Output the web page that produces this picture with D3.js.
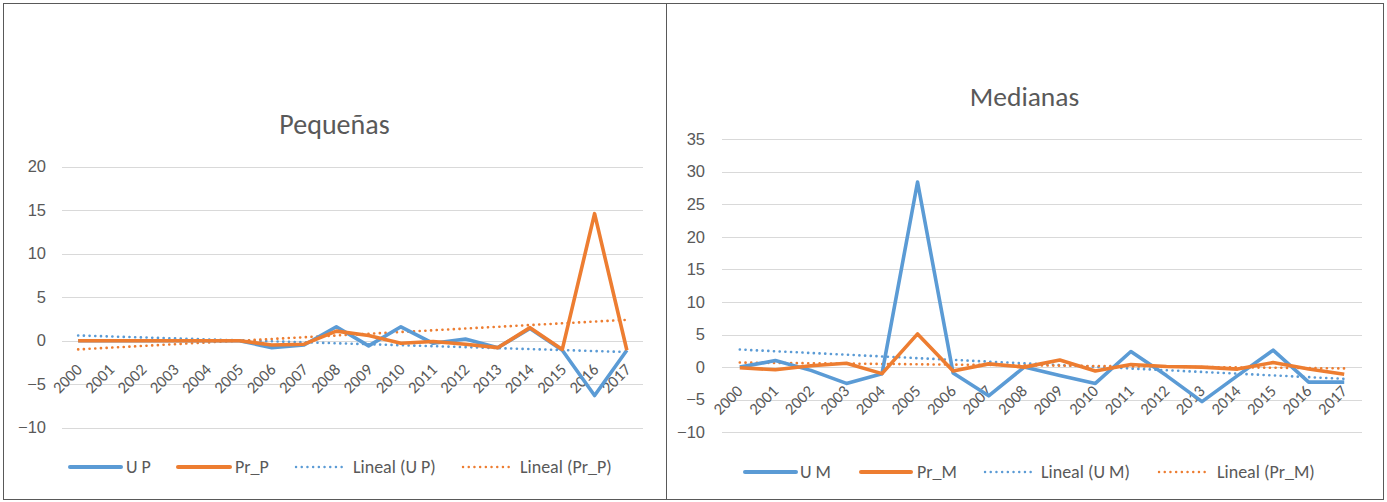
<!DOCTYPE html>
<html>
<head>
<meta charset="utf-8">
<script src="https://cdn.jsdelivr.net/npm/d3@7"></script>
<style>
  body { margin: 0; background: #fff; }
  svg { display: block; font-family: Carlito, Calibri, Lato, sans-serif; }
</style>
</head>
<body>
<svg id="chart" width="1387" height="502"></svg>
<script>
// ------------------
// Data
// ------------------
const years = ['2000', '2001', '2002', '2003', '2004', '2005', '2006', '2007', '2008',
  '2009', '2010', '2011', '2012', '2013', '2014', '2015', '2016', '2017']

const upValues = [0, 0, 0, 0, 0, 0, -0.8, -0.5, 1.6, -0.6, 1.6, -0.3, 0.2, -0.8, 1.4, -1.1, -6.3, -1.1]
const prPValues = [0, 0, 0, 0, 0, 0, -0.5, -0.4, 1.1, 0.6, -0.3, -0.1, -0.4, -0.8, 1.5, -1.0, 14.6, -1.1]
const umValues = [0, 1.0, -0.5, -2.5, -1.0, 28.4, -0.9, -4.4, 0, -1.3, -2.5, 2.4, -1.3, -5.3, -1.3, 2.6, -2.3, -2.3]
const prMValues = [-0.1, -0.4, 0.2, 0.6, -1.0, 5.1, -0.6, 0.5, 0, 1.1, -0.6, 0.4, 0.1, 0, -0.3, 0.7, -0.3, -1.1]

// linear trend lines: value at first and last year
const trendUP = [0.6, -1.3]
const trendPrP = [-1.0, 2.4]
const trendUM = [2.7, -1.8]
const trendPrM = [0.7, -0.2]

const ticksP = [-10, -5, 0, 5, 10, 15, 20]
const ticksM = [-10, -5, 0, 5, 10, 15, 20, 25, 30, 35]

const BLUE = '#5b9bd5'
const ORANGE = '#ed7d31'
const TEXT = '#595959'
const GRID = '#d9d9d9'

const svg = d3.select('#chart')

// ------------------
// One panel
// ------------------
function drawPanel(opt) {
  const g = svg.append('g')

  // frame
  g.append('rect')
    .attr('x', opt.frame[0] + 0.5)
    .attr('y', 3.5)
    .attr('width', opt.frame[1] - opt.frame[0])
    .attr('height', 496)
    .attr('fill', 'none')
    .attr('stroke', '#595959')
    .attr('stroke-width', 1)

  // title
  g.append('text')
    .attr('x', (opt.frame[0] + opt.frame[1]) / 2)
    .attr('y', opt.titleY)
    .attr('text-anchor', 'middle')
    .attr('fill', TEXT)
    .attr('font-size', opt.titleSize)
    .text(opt.title)

  const x = d3.scalePoint()
    .domain(years)
    .range(opt.xRange)
    .padding(0.5)

  const y = d3.scaleLinear()
    .domain(d3.extent(opt.ticks))
    .range(opt.yRange)

  // gridlines
  g.append('g')
    .selectAll('line')
    .data(opt.ticks)
    .join('line')
    .attr('x1', opt.xRange[0])
    .attr('x2', opt.xRange[1])
    .attr('y1', d => Math.round(y(d)) + 0.5)
    .attr('y2', d => Math.round(y(d)) + 0.5)
    .attr('stroke', GRID)
    .attr('stroke-width', 1)

  // y axis labels
  const yAxis = d3.axisLeft(y).tickValues(opt.ticks).tickSize(0).tickPadding(0)
  g.append('g')
    .attr('transform', `translate(${opt.yLabelX},0)`)
    .call(yAxis)
    .call(a => a.select('.domain').remove())
    .selectAll('text')
    .attr('fill', TEXT)
    .attr('font-size', opt.tickSize)
    .attr('font-family', null)

  // x labels, rotated, hanging under the zero line
  g.append('g')
    .selectAll('text')
    .data(years)
    .join('text')
    .attr('transform', d => `translate(${x(d) + opt.labelDx},${y(0) + opt.labelDy}) rotate(-45)`)
    .attr('text-anchor', 'end')
    .attr('fill', TEXT)
    .attr('font-size', opt.tickSize)
    .text(d => d)

  // trend lines
  const first = years[0]
  const last = years[years.length - 1]
  opt.trends.forEach(t => {
    g.append('line')
      .attr('x1', x(first))
      .attr('x2', x(last))
      .attr('y1', y(t.values[0]))
      .attr('y2', y(t.values[1]))
      .attr('stroke', t.color)
      .attr('stroke-width', 2.6)
      .attr('stroke-dasharray', '0.1 5.6')
      .attr('stroke-linecap', 'round')
  })

  // series
  const line = d3.line()
    .x((d, i) => x(years[i]))
    .y(d => y(d))

  opt.series.forEach(s => {
    g.append('path')
      .datum(s.values)
      .attr('d', line)
      .attr('fill', 'none')
      .attr('stroke', s.color)
      .attr('stroke-width', 3.6)
      .attr('stroke-linejoin', 'round')
  })

  // legend
  const lg = g.append('g')
  opt.legend.forEach(item => {
    const ly = opt.legendY
    lg.append('line')
      .attr('x1', item.x0)
      .attr('x2', item.x1)
      .attr('y1', ly)
      .attr('y2', ly)
      .attr('stroke', item.color)
      .attr('stroke-width', item.dotted ? 2.4 : 4)
      .attr('stroke-linecap', 'round')
      .attr('stroke-dasharray', item.dotted ? '0.1 5.6' : null)
    lg.append('text')
      .attr('x', item.tx)
      .attr('y', ly)
      .attr('dy', '0.35em')
      .attr('fill', TEXT)
      .attr('font-size', opt.legendSize)
      .text(item.label)
  })
}

drawPanel({
  frame: [3, 666],
  title: 'Pequeñas',
  titleY: 134,
  titleSize: 28,
  ticks: ticksP,
  xRange: [62, 643],
  yRange: [427.7, 166.7],
  yLabelX: 46,
  tickSize: 16.5,
  labelDx: 5,
  labelDy: 30,
  legendY: 467,
  legendSize: 18,
  series: [
    { values: upValues, color: BLUE },
    { values: prPValues, color: ORANGE }
  ],
  trends: [
    { values: trendUP, color: BLUE },
    { values: trendPrP, color: ORANGE }
  ],
  legend: [
    { label: 'U P', color: BLUE, x0: 70, x1: 121, tx: 126 },
    { label: 'Pr_P', color: ORANGE, x0: 178, x1: 230, tx: 235 },
    { label: 'Lineal (U P)', color: BLUE, dotted: true, x0: 296, x1: 343, tx: 353 },
    { label: 'Lineal (Pr_P)', color: ORANGE, dotted: true, x0: 463, x1: 511, tx: 520 }
  ]
})

drawPanel({
  frame: [666, 1383],
  title: 'Medianas',
  titleY: 106,
  titleSize: 27.5,
  ticks: ticksM,
  xRange: [722, 1362],
  yRange: [432.3, 139],
  yLabelX: 705,
  tickSize: 16.5,
  labelDx: 4,
  labelDy: 25,
  legendY: 472,
  legendSize: 18,
  series: [
    { values: umValues, color: BLUE },
    { values: prMValues, color: ORANGE }
  ],
  trends: [
    { values: trendUM, color: BLUE },
    { values: trendPrM, color: ORANGE }
  ],
  legend: [
    { label: 'U M', color: BLUE, x0: 745, x1: 796, tx: 800 },
    { label: 'Pr_M', color: ORANGE, x0: 861, x1: 911, tx: 917 },
    { label: 'Lineal (U M)', color: BLUE, dotted: true, x0: 985, x1: 1032, tx: 1041 },
    { label: 'Lineal (Pr_M)', color: ORANGE, dotted: true, x0: 1159, x1: 1206, tx: 1217 }
  ]
})
</script>
</body>
</html>
